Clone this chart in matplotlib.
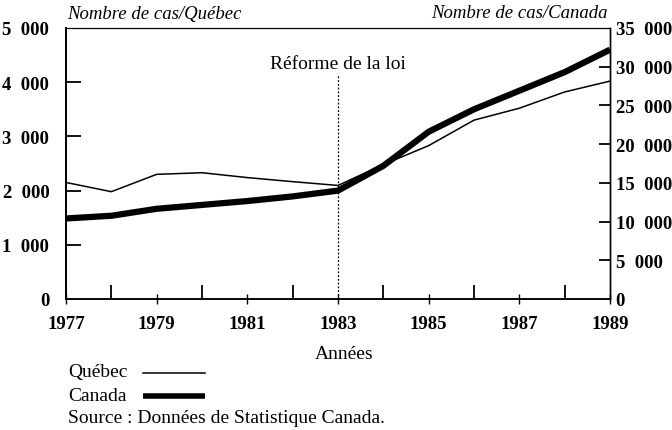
import matplotlib
matplotlib.use("Agg")
import matplotlib.pyplot as plt
from matplotlib.ticker import FixedLocator, FuncFormatter

plt.rcParams['font.family'] = ['Liberation Serif', 'DejaVu Serif']

years = [1977, 1978, 1979, 1980, 1981, 1982, 1983, 1984, 1985, 1986, 1987, 1988, 1989]
quebec = [2150, 1980, 2300, 2330, 2240, 2165, 2095, 2480, 2830, 3300, 3520, 3820, 4020]
canada = [10400, 10750, 11650, 12150, 12650, 13250, 14000, 17200, 21600, 24500, 26900, 29300, 32200]

left_ticks = [0, 1000, 2000, 3000, 4000, 5000]
right_ticks = [0, 5000, 10000, 15000, 20000, 25000, 30000, 35000]
year_labels = [1977, 1979, 1981, 1983, 1985, 1987, 1989]
reform_year = 1983


def espace(v, pos=None):
    # separateur de milliers a la francaise, espace large comme dans l'original
    return f"{int(v):,}".replace(",", "\u2002")


fig = plt.figure(figsize=(6.72, 4.31), dpi=100)
ax = fig.add_axes([66/672, 1 - 300/431, (610-66)/672, (300-29)/431])
ax2 = ax.twinx()

ax.plot(years, quebec, color='black', lw=1.1, solid_joinstyle='round')
ax2.plot(years, canada, color='black', lw=4.5, solid_capstyle='butt')

ax.set_xlim(1977, 1989)
ax.set_ylim(0, 5000)
ax2.set_ylim(0, 35000)

# ligne de la reforme
ax.plot([reform_year, reform_year], [0, 4130], color='black', lw=0.9, ls=(0, (1.5, 1.5)))
ax.text(reform_year, 4340, "Réforme de la loi", ha='center', va='center', fontsize=14)

ax.xaxis.set_major_locator(FixedLocator(year_labels))
ax.xaxis.set_minor_locator(FixedLocator([y for y in years if y not in year_labels]))
ax.tick_params(axis='x', which='major', direction='inout', length=7, width=1, pad=8,
               labelsize=13.5)
ax.tick_params(axis='x', which='minor', direction='in', length=10, width=1.3)

ax.set_yticks(left_ticks)
ax.yaxis.set_major_formatter(FuncFormatter(espace))
ax.tick_params(axis='y', direction='in', length=11, width=1.3, labelsize=13.5, pad=12)
ax2.set_yticks(right_ticks)
ax2.yaxis.set_major_formatter(FuncFormatter(espace))
ax2.tick_params(axis='y', direction='in', length=8, width=1.3, labelsize=13.5, pad=4)

# pas de petit trait aux extremites des axes verticaux
for t in (ax.yaxis.get_major_ticks()[0], ax.yaxis.get_major_ticks()[-1]):
    t.tick1line.set_visible(False)
for t in (ax2.yaxis.get_major_ticks()[0], ax2.yaxis.get_major_ticks()[-1]):
    t.tick2line.set_visible(False)

for lab in ax.get_xticklabels() + ax.get_yticklabels() + ax2.get_yticklabels():
    lab.set_fontweight('bold')

for a in (ax, ax2):
    a.spines['left'].set_linewidth(1.3)
    a.spines['bottom'].set_linewidth(1.1)
    a.spines['right'].set_linewidth(1.0)
    a.spines['top'].set_linewidth(0.8)

fig.text(67/672, 1 - 15/431, "Nombre de cas/Québec", style='italic', fontsize=13.5,
         ha='left', va='center')
fig.text(608/672, 1 - 13/431, "Nombre de cas/Canada", style='italic', fontsize=13.5,
         ha='right', va='center')
fig.text(344/672, 1 - 355/431, "Années", fontsize=14, ha='center', va='center')

# legende manuelle
fig.text(68/672, 1 - 373/431, "Québec", fontsize=14, ha='left', va='center')
fig.text(68/672, 1 - 397/431, "Canada", fontsize=14, ha='left', va='center')
fig.add_artist(plt.Line2D([143/672, 205/672], [1 - 374/431] * 2, color='black', lw=1.1))
fig.add_artist(plt.Line2D([143/672, 205/672], [1 - 397/431] * 2, color='black', lw=4.0,
                          solid_capstyle='butt'))
fig.text(68/672, 1 - 419/431, "Source : Données de Statistique Canada.", fontsize=14,
         ha='left', va='center')

fig.savefig("out.png", dpi=100)
